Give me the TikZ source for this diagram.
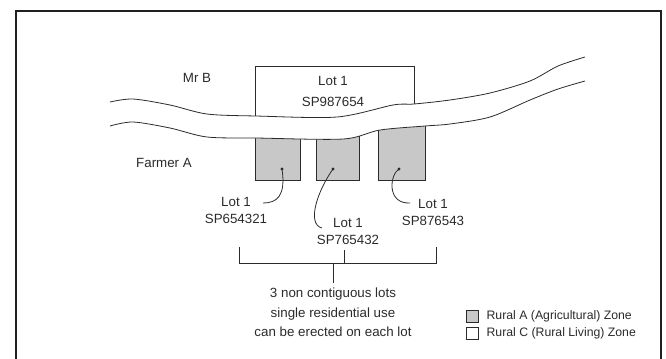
\documentclass[tikz,border=0pt]{standalone}
\usepackage{fontspec}
\setmainfont{Liberation Sans}
\usetikzlibrary{positioning}
\definecolor{Ink}{HTML}{2B2B2B}
\definecolor{Frame}{HTML}{231F20}
\definecolor{Zone}{HTML}{C8C8C8}

\begin{document}
\begin{tikzpicture}[x=0.75pt,y=-0.75pt,
    ln/.style={draw=Ink,line width=0.6pt},
    lbl/.style={align=center,text=Ink,font=\fontsize{10}{12.75}\selectfont},
    lot/.style={ln,fill=Zone},
    key/.style={ln,minimum width=9.5pt,minimum height=8.5pt,inner sep=0pt},
    dot/.style={circle,fill=Ink,inner sep=0pt,minimum size=2.6pt}]
  \useasboundingbox (0,0) rectangle (666,358);
  \draw[draw=Frame,line width=1.6pt] (16,380) |- (661,11) -- (661,380);
  % lots either side of the road
  \draw[ln,fill=white] (255,122) rectangle (414,66);
  \draw[lot] (255,125) rectangle (300,180);
  \draw[lot] (316,125) rectangle (359,180);
  \draw[lot] (378,115) rectangle (425,180);
  % road
  \fill[white] plot[smooth] coordinates {(110,102) (133,99) (170,105) (207,114) (256,116) (337,117) (393,105) (414,104) (450,100) (490,93) (530,81) (558,66) (585,57)}
    -- plot[smooth] coordinates {(585,81) (558,89) (530,100) (490,117) (450,124) (425,126) (380,130) (343,139) (256,138) (207,137) (170,128) (133,122) (110,126)} -- cycle;
  \draw[ln] plot[smooth] coordinates {(110,102) (133,99) (170,105) (207,114) (256,116) (337,117) (393,105) (414,104) (450,100) (490,93) (530,81) (558,66) (585,57)};
  \draw[ln] plot[smooth] coordinates {(110,126) (133,122) (170,128) (207,137) (256,138) (343,139) (380,130) (425,126) (450,124) (490,117) (530,100) (558,89) (585,81)};
  % owners and lot labels
  \node[lbl] (mrb) at (197,78) {Mr B};
  \node[lbl] (farmer) at (164,163) {Farmer A};
  \node[lbl,font=\fontsize{10}{15.75}\selectfont] (lotb) at (333,91) {Lot 1\\SP987654};
  \node[dot] (d1) at (282,169) {};
  \node[dot] (d2) at (333,169) {};
  \node[dot] (d3) at (399,169) {};
  \node[lbl] (la1) at (236,210.5) {Lot 1\\SP654321};
  \node[lbl] (la2) at (348,231.5) {Lot 1\\SP765432};
  \node[lbl] (la3) at (433,212) {Lot 1\\SP876543};
  \coordinate (e1) at (263,203);
  \coordinate (e2) at (322,228);
  \coordinate (e3) at (410,203);
  \draw[ln] (d1.center) .. controls (286,196) and (277,203) .. (e1);
  \draw[ln] (d2.center) .. controls (318,190) and (306,224) .. (e2);
  \draw[ln] (d3.center) .. controls (390,174) and (386,204) .. (e3);
  % bracket
  \coordinate (bl) at (239,247);
  \coordinate (br) at (436,247);
  \coordinate (bm) at (344,250);
  \coordinate (bj) at (333,263);
  \draw[ln] (bl) -- ++(0,16) -| (br);
  \draw[ln] (bm) -- (bm |- bj);
  \node[lbl,font=\fontsize{10}{14.6}\selectfont] (note) at (333,312.5) {3 non contiguous lots\\single residential use\\can be erected on each lot};
  \draw[ln] (bj) -- (note.north);
  % legend
  \node[key,fill=Zone] (ka) at (472.5,316.5) {};
  \node[lbl,font=\fontsize{9.2}{11}\selectfont,right=2pt of ka] (ta) {Rural A (Agricultural) Zone};
  \node[key,fill=white] (kc) at (472.5,333.5) {};
  \node[lbl,font=\fontsize{9.2}{11}\selectfont,right=2pt of kc] (tc) {Rural C (Rural Living) Zone};
\end{tikzpicture}
\end{document}
